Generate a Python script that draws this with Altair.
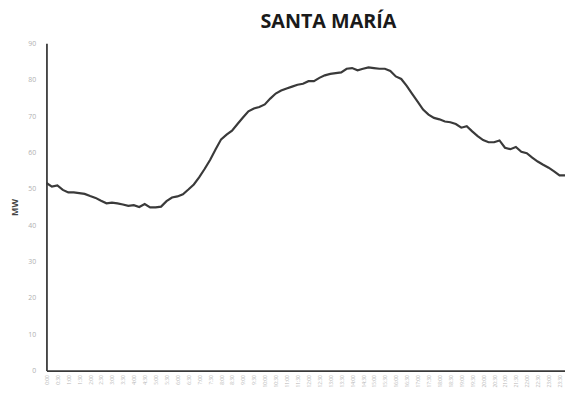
import altair as alt
import pandas as pd

# 15-minute intervals through the day
horas = [f"{(i * 15) // 60}:{(i * 15) % 60:02d}" for i in range(96)]

mw = [
    51.6, 50.6, 50.9, 49.7, 49.0, 49.0, 48.8, 48.6, 48.0, 47.5,
    46.7, 46.0, 46.2, 46.0, 45.7, 45.3, 45.5, 45.0, 45.8, 44.9,
    44.9, 45.1, 46.6, 47.6, 47.9, 48.5, 49.8, 51.2, 53.2, 55.5,
    58.0, 60.9, 63.6, 64.9, 66.0, 67.8, 69.6, 71.3, 72.1, 72.5,
    73.2, 74.8, 76.2, 77.0, 77.6, 78.1, 78.6, 78.9, 79.6, 79.6,
    80.5, 81.2, 81.6, 81.8, 82.0, 83.0, 83.2, 82.6, 83.0, 83.4,
    83.2, 83.0, 83.0, 82.4, 80.9, 80.2, 78.3, 76.1, 74.0, 71.8,
    70.4, 69.5, 69.1, 68.5, 68.3, 67.8, 66.8, 67.2, 65.8, 64.5,
    63.4, 62.8, 62.8, 63.3, 61.3, 60.9, 61.5, 60.2, 59.8, 58.6,
    57.5, 56.6, 55.8, 54.8, 53.7, 53.7,
]

y_ticks = [0, 10, 20, 30, 40, 50, 60, 70, 80, 90]

df = pd.DataFrame({"hora": horas, "mw": mw})

chart = (
    alt.Chart(df)
    .mark_line(color="#3a3a3a", strokeWidth=2.2)
    .encode(
        x=alt.X(
            "hora:O",
            sort=horas,
            scale=alt.Scale(type="point", padding=0),
            axis=alt.Axis(
                values=horas[::2],
                labelAngle=-90,
                labelFontSize=5,
                labelColor="#b8b8b8",
                labelFont="Open Sans",
                labelPadding=4,
                labelOverlap=False,
                domainColor="#3a3a3a",
                domainWidth=1.8,
                ticks=False,
                title=None,
            ),
        ),
        y=alt.Y(
            "mw:Q",
            scale=alt.Scale(domain=[0, 90], nice=False),
            axis=alt.Axis(
                values=y_ticks,
                grid=False,
                ticks=False,
                labelFontSize=7,
                labelColor="#b0b0b0",
                labelFont="Open Sans",
                labelPadding=11,
                domainColor="#3a3a3a",
                domainWidth=1.8,
                title="MW",
                titleFont="Open Sans",
                titleFontSize=9,
                titleFontWeight="bold",
                titleColor="#444444",
                titlePadding=8,
            ),
        ),
    )
    .properties(
        width=526,
        height=332,
        title=alt.TitleParams(
            "SANTA MARÍA",
            font="Open Sans",
            fontSize=20,
            fontWeight="bold",
            color="#1a1a1a",
            anchor="middle",
            baseline="alphabetic",
            dx=23,
            dy=21,
            offset=13,
        ),
        autosize=alt.AutoSizeParams(type="none"),
        padding={"left": 39, "top": 33, "right": 0, "bottom": 30},
    )
    .configure_view(stroke=None)
)

chart.save("out.html", embed_options={"renderer": "svg", "actions": False})
